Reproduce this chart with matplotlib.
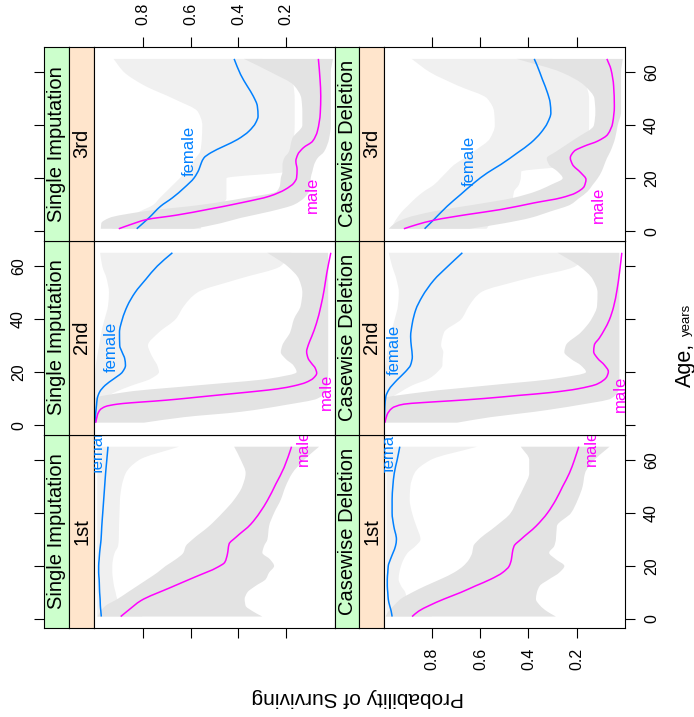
import numpy as np
import matplotlib
matplotlib.use("Agg")
import matplotlib.pyplot as plt
from matplotlib.path import Path
from matplotlib.patches import PathPatch
from matplotlib.transforms import blended_transform_factory

plt.rcParams["font.family"] = ["Liberation Sans", "DejaVu Sans"]

# ------------------------------------------------------------------
# Estimated probability of surviving by age, sex, class and method
# ------------------------------------------------------------------
AGE_GRID = [0.92, 3, 5, 7.5, 10, 12.5, 15, 17.5, 20, 22.5, 25, 27.5, 30,
            35, 40, 45, 50, 55, 60, 65]

# 1st class, single imputation
FEM_1ST_SI = [0.973, 0.975, 0.977, 0.978, 0.980, 0.981, 0.982, 0.984, 0.984, 0.982,
              0.980, 0.977, 0.974, 0.971, 0.967, 0.963, 0.959, 0.955, 0.950, 0.945]
MALE_1ST_SI_AGE = [0.92, 3.5, 6.9, 11.9, 15.7, 19.5, 21.4, 24.5, 28.3, 30.8, 35.8,
                   44.7, 50.9, 57.2, 65]
MALE_1ST_SI = [0.892, 0.857, 0.808, 0.683, 0.585, 0.488, 0.457, 0.446, 0.439, 0.411,
               0.348, 0.279, 0.244, 0.209, 0.178]
FEM_1ST_SI_LO = [0.80, 0.84, 0.87, 0.906, 0.913, 0.92, 0.924, 0.927, 0.927, 0.924,
                 0.917, 0.903, 0.90, 0.899, 0.897, 0.895, 0.888, 0.871, 0.815, 0.648]
FEM_1ST_SI_HI = [0.99] * 20
MALE_1ST_SI_LO = [0.30, 0.342, 0.37, 0.374, 0.363, 0.328, 0.286, 0.272, 0.251, 0.268,
                  0.30, 0.293, 0.279, 0.272, 0.251, 0.223, 0.203, 0.175, 0.126, 0.063]
MALE_1ST_SI_HI = [0.989, 0.975, 0.955, 0.906, 0.864, 0.822, 0.78, 0.739, 0.704, 0.662,
                  0.63, 0.62, 0.592, 0.523, 0.467, 0.418, 0.384, 0.370, 0.390, 0.418]

# 1st class, casewise deletion
FEM_1ST_CD = [0.967, 0.971, 0.977, 0.983, 0.985, 0.987, 0.987, 0.985, 0.983, 0.974,
              0.963, 0.953, 0.949, 0.960, 0.967, 0.967, 0.964, 0.958, 0.946, 0.935]
MALE_1ST_CD = [0.884, 0.856, 0.814, 0.752, 0.682, 0.62, 0.557, 0.508, 0.48, 0.471,
               0.467, 0.46, 0.432, 0.369, 0.321, 0.286, 0.258, 0.23, 0.209, 0.191]
FEM_1ST_CD_LO = [0.80, 0.84, 0.87, 0.905, 0.912, 0.93, 0.94, 0.937, 0.93, 0.919,
                 0.902, 0.87, 0.849, 0.866, 0.884, 0.894, 0.891, 0.874, 0.807, 0.613]
FEM_1ST_CD_HI = [0.99] * 20
MALE_1ST_CD_LO = [0.286, 0.325, 0.351, 0.369, 0.365, 0.353, 0.314, 0.272, 0.251, 0.286,
                  0.314, 0.293, 0.286, 0.282, 0.223, 0.195, 0.175, 0.165, 0.126, 0.063]
MALE_1ST_CD_HI = [0.994, 0.981, 0.96, 0.932, 0.884, 0.828, 0.766, 0.71, 0.671, 0.647,
                  0.634, 0.629, 0.606, 0.536, 0.474, 0.446, 0.418, 0.397, 0.397, 0.432]

# 2nd class, single imputation
FEM_2ND_SI = [0.999, 0.998, 0.996, 0.993, 0.99, 0.98, 0.957, 0.92, 0.885, 0.872,
              0.875, 0.886, 0.896, 0.897, 0.885, 0.864, 0.832, 0.787, 0.739, 0.676]
MALE_2ND_SI_AGE = [0.92, 3.88, 5.76, 7.02, 7.90, 8.40, 9.03, 9.78, 10.53, 11.29, 12.04,
                   12.79, 13.67, 14.80, 16.06, 17.69, 19.57, 21.46, 23.34, 25.22,
                   27.73, 30.24, 33.38, 38.41, 44.69, 50.97, 57.25, 65]
MALE_2ND_SI = [0.996, 0.989, 0.978, 0.955, 0.906, 0.850, 0.753, 0.655, 0.572, 0.488,
               0.404, 0.321, 0.237, 0.168, 0.119, 0.087, 0.073, 0.079, 0.095, 0.109,
               0.115, 0.108, 0.094, 0.074, 0.056, 0.042, 0.031, 0.014]
FEM_2ND_SI_LO = [0.997, 0.995, 0.99, 0.982, 0.962, 0.913, 0.843, 0.766, 0.732, 0.739,
                 0.755, 0.769, 0.778, 0.732, 0.662, 0.627, 0.572, 0.404, 0.223, 0.18]
FEM_2ND_SI_HI = [0.999, 0.999, 0.999, 0.999, 0.999, 0.999, 0.999, 0.999, 0.998, 0.996,
                 0.992, 0.987, 0.982, 0.973, 0.959, 0.945, 0.941, 0.950, 0.969, 0.978]
MALE_2ND_SI_LO = [0.794, 0.627, 0.391, 0.21, 0.07, 0.035, 0.028, 0.026, 0.025, 0.025,
                  0.025, 0.025, 0.025, 0.025, 0.025, 0.025, 0.025, 0.025, 0.025, 0.025]
MALE_2ND_SI_HI = [1.0, 1.0, 1.0, 1.0, 1.0, 0.867, 0.57, 0.274, 0.157, 0.17,
                  0.203, 0.223, 0.217, 0.184, 0.168, 0.14, 0.133, 0.147, 0.196, 0.279]

# 2nd class, casewise deletion
FEM_2ND_CD_AGE = [0.92, 7.02, 10.78, 13.30, 17.06, 20.20, 22.71, 25.85, 29.62, 33.38,
                  38.41, 43.43, 48.46, 54.73, 59.76, 65]
FEM_2ND_CD = [0.999, 0.997, 0.993, 0.981, 0.946, 0.911, 0.890, 0.883, 0.887, 0.890,
              0.883, 0.869, 0.842, 0.793, 0.737, 0.675]
MALE_2ND_CD_AGE = [0.92, 3.88, 6.39, 7.90, 8.52, 9.15, 10.03, 11.16, 12.29, 13.67,
                   15.55, 18.32, 20.20, 22.71, 25.22, 27.73, 30.24, 32.75, 35.89,
                   39.66, 44.69, 50.97, 57.25, 65]
MALE_2ND_CD = [0.997, 0.988, 0.967, 0.918, 0.835, 0.724, 0.585, 0.446, 0.307, 0.196,
               0.113, 0.074, 0.068, 0.085, 0.113, 0.129, 0.126, 0.106, 0.085, 0.064,
               0.046, 0.032, 0.022, 0.012]
FEM_2ND_CD_LO = [0.997, 0.995, 0.993, 0.99, 0.974, 0.932, 0.883, 0.814, 0.779, 0.758,
                 0.757, 0.754, 0.763, 0.751, 0.679, 0.647, 0.599, 0.418, 0.203, 0.15]
FEM_2ND_CD_HI = [0.998, 0.998, 0.998, 0.998, 0.998, 0.998, 0.998, 0.998, 0.997, 0.995,
                 0.992, 0.987, 0.983, 0.971, 0.956, 0.943, 0.939, 0.949, 0.967, 0.981]
MALE_2ND_CD_LO = [0.696, 0.557, 0.376, 0.196, 0.057, 0.029, 0.022, 0.022, 0.022, 0.022,
                  0.022, 0.022, 0.022, 0.022, 0.022, 0.022, 0.022, 0.022, 0.022, 0.022]
MALE_2ND_CD_HI = [1.0, 1.0, 1.0, 1.0, 1.0, 0.835, 0.564, 0.293, 0.161, 0.182,
                  0.224, 0.251, 0.245, 0.182, 0.138, 0.115, 0.113, 0.133, 0.189, 0.279]

# 3rd class, single imputation
FEM_3RD_SI_AGE = [0.92, 5.03, 9.43, 12.58, 16.35, 20.13, 23.27, 25.79, 27.67, 29.56,
                  32.08, 34.59, 37.74, 40.88, 43.40, 47.17, 50.94, 54.72, 59.12, 65]
FEM_3RD_SI = [0.825, 0.774, 0.725, 0.676, 0.627, 0.585, 0.565, 0.555, 0.544, 0.516,
              0.46, 0.404, 0.356, 0.328, 0.318, 0.321, 0.338, 0.363, 0.391, 0.418]
MALE_3RD_SI_AGE = [0.92, 2.52, 4.4, 6.04, 8.18, 10.69, 13.21, 15.72, 18.24,
                   20.13, 23.27, 26.42, 28.93, 31.45, 33.96, 37.74, 44.65, 50.94,
                   57.23, 65]
MALE_3RD_SI = [0.90, 0.85, 0.783, 0.66, 0.53, 0.39, 0.27, 0.205, 0.168,
               0.157, 0.155, 0.16, 0.152, 0.129, 0.09, 0.07, 0.058, 0.056, 0.059, 0.066]
FEM_3RD_SI_LO = [0.558, 0.55, 0.53, 0.50, 0.47, 0.45, 0.45, 0.45, 0.45, 0.2,
                 0.19, 0.18, 0.175, 0.168, 0.165, 0.165, 0.165, 0.17, 0.2, 0.3]
FEM_3RD_SI_HI = [0.93, 0.9, 0.86, 0.811, 0.755, 0.729, 0.701, 0.673, 0.645, 0.618,
                 0.598, 0.58, 0.56, 0.553, 0.551, 0.569, 0.672, 0.794, 0.878, 0.922]
MALE_3RD_SI_LO = [0.585, 0.474, 0.391, 0.265, 0.168, 0.126, 0.105, 0.10, 0.098, 0.091,
                  0.084, 0.07, 0.042, 0.021, 0.014, 0.014, 0.014, 0.014, 0.014, 0.005]
MALE_3RD_SI_HI = [0.975, 0.973, 0.94, 0.794, 0.551, 0.377, 0.24, 0.226, 0.223, 0.216,
                  0.216, 0.209, 0.189, 0.175, 0.133, 0.133, 0.137, 0.168, 0.265, 0.377]

# 3rd class, casewise deletion
FEM_3RD_CD_AGE = [0.92, 4.4, 9.43, 13.84, 18.24, 22.01, 25.16, 29.56, 33.33, 37.11,
                  40.88, 44.65, 48.43, 52.20, 57.23, 62.26, 65]
FEM_3RD_CD = [0.832, 0.793, 0.738, 0.682, 0.626, 0.571, 0.515, 0.446, 0.39, 0.349,
              0.321, 0.307, 0.31, 0.321, 0.342, 0.363, 0.376]
MALE_3RD_CD_AGE = [0.92, 2.52, 4.15, 6.29, 8.18, 10.69, 12.58, 14.47, 16.98, 19.50,
                   22.01, 25.16, 27.67, 30.19, 32.08, 33.96, 36.48, 40.88, 47.17,
                   54.72, 61.01, 65]
MALE_3RD_CD = [0.918, 0.863, 0.793, 0.654, 0.515, 0.376, 0.265, 0.203, 0.168, 0.161,
               0.182, 0.217, 0.226, 0.21, 0.168, 0.113, 0.071, 0.05, 0.043, 0.046,
               0.057, 0.074]
FEM_3RD_CD_LO = [0.574, 0.557, 0.529, 0.50, 0.474, 0.465, 0.46, 0.44, 0.432, 0.43,
                 0.2, 0.18, 0.17, 0.15, 0.148, 0.148, 0.148, 0.16, 0.2, 0.3]
FEM_3RD_CD_HI = [0.97, 0.96, 0.946, 0.925, 0.897, 0.869, 0.835, 0.793, 0.765, 0.738,
                 0.71, 0.668, 0.629, 0.56, 0.54, 0.543, 0.571, 0.696, 0.81, 0.886]
MALE_3RD_CD_LO = [0.643, 0.501, 0.393, 0.307, 0.226, 0.189, 0.154, 0.133, 0.112, 0.096,
                  0.085, 0.074, 0.06, 0.04, 0.029, 0.015, 0.015, 0.015, 0.015, 0.008]
MALE_3RD_CD_HI = [0.981, 0.955, 0.907, 0.793, 0.626, 0.467, 0.37, 0.307, 0.258, 0.279,
                  0.314, 0.324, 0.286, 0.203, 0.128, 0.122, 0.126, 0.168, 0.265, 0.449]

METHODS = ["Single Imputation", "Casewise Deletion"]
CLASSES = ["1st", "2nd", "3rd"]
AGE_TICKS = [0, 20, 40, 60]
PROB_TICKS = [0.2, 0.4, 0.6, 0.8]

PANELS = {
    (0, "1st"): dict(fa=AGE_GRID, f=FEM_1ST_SI, ma=MALE_1ST_SI_AGE, m=MALE_1ST_SI,
                     flo=FEM_1ST_SI_LO, fhi=FEM_1ST_SI_HI,
                     mlo=MALE_1ST_SI_LO, mhi=MALE_1ST_SI_HI),
    (1, "1st"): dict(fa=AGE_GRID, f=FEM_1ST_CD, ma=AGE_GRID, m=MALE_1ST_CD,
                     flo=FEM_1ST_CD_LO, fhi=FEM_1ST_CD_HI,
                     mlo=MALE_1ST_CD_LO, mhi=MALE_1ST_CD_HI),
    (0, "2nd"): dict(fa=AGE_GRID, f=FEM_2ND_SI, ma=MALE_2ND_SI_AGE, m=MALE_2ND_SI,
                     flo=FEM_2ND_SI_LO, fhi=FEM_2ND_SI_HI,
                     mlo=MALE_2ND_SI_LO, mhi=MALE_2ND_SI_HI),
    (1, "2nd"): dict(fa=FEM_2ND_CD_AGE, f=FEM_2ND_CD, ma=MALE_2ND_CD_AGE, m=MALE_2ND_CD,
                     flo=FEM_2ND_CD_LO, fhi=FEM_2ND_CD_HI,
                     mlo=MALE_2ND_CD_LO, mhi=MALE_2ND_CD_HI),
    (0, "3rd"): dict(fa=FEM_3RD_SI_AGE, f=FEM_3RD_SI, ma=MALE_3RD_SI_AGE, m=MALE_3RD_SI,
                     flo=FEM_3RD_SI_LO, fhi=FEM_3RD_SI_HI,
                     mlo=MALE_3RD_SI_LO, mhi=MALE_3RD_SI_HI),
    (1, "3rd"): dict(fa=FEM_3RD_CD_AGE, f=FEM_3RD_CD, ma=MALE_3RD_CD_AGE, m=MALE_3RD_CD,
                     flo=FEM_3RD_CD_LO, fhi=FEM_3RD_CD_HI,
                     mlo=MALE_3RD_CD_LO, mhi=MALE_3RD_CD_HI),
}

# curve labels: (probability at baseline, age where the text starts)
CURVE_LABELS = {
    (0, "1st"): ((0.968, 55.0), (0.109, 57.9)),
    (1, "1st"): ((0.960, 55.3), (0.118, 57.9)),
    (0, "2nd"): ((0.913, 20.2), (0.012, 5.8)),
    (1, "2nd"): ((0.939, 18.9), (0.000, 5.1)),
    (0, "3rd"): ((0.585, 20.8), (0.073, 6.9)),
    (1, "3rd"): ((0.626, 17.0), (0.092, 3.1)),
}


# ------------------------------------------------------------------
# Smooth (shape-preserving cubic) paths through the estimates
# ------------------------------------------------------------------
def pchip_slopes(t, v):
    t = np.asarray(t, float)
    v = np.asarray(v, float)
    h = np.diff(t)
    d = np.diff(v) / h
    m = np.zeros_like(v)
    m[0], m[-1] = d[0], d[-1]
    for k in range(1, len(v) - 1):
        if d[k - 1] * d[k] <= 0:
            m[k] = 0.0
        else:
            w1 = 2 * h[k] + h[k - 1]
            w2 = h[k] + 2 * h[k - 1]
            m[k] = (w1 + w2) / (w1 / d[k - 1] + w2 / d[k])
    return m


def bezier_vertices(age, prob):
    """Cubic Bezier vertices (x=prob, y=age) following the estimates."""
    t = np.asarray(age, float)
    v = np.asarray(prob, float)
    m = pchip_slopes(t, v)
    verts = [(v[0], t[0])]
    for k in range(len(t) - 1):
        h = t[k + 1] - t[k]
        verts.append((v[k] + m[k] * h / 3, t[k] + h / 3))
        verts.append((v[k + 1] - m[k + 1] * h / 3, t[k + 1] - h / 3))
        verts.append((v[k + 1], t[k + 1]))
    return verts


def curve_path(age, prob):
    verts = bezier_vertices(age, prob)
    codes = [Path.MOVETO] + [Path.CURVE4] * (len(verts) - 1)
    return Path(verts, codes)


def band_path(age, lo, hi):
    lo_v = bezier_vertices(age, lo)
    hi_v = bezier_vertices(age, hi)[::-1]
    verts = lo_v + hi_v + [lo_v[0]]
    codes = ([Path.MOVETO] + [Path.CURVE4] * (len(lo_v) - 1)
             + [Path.LINETO] + [Path.CURVE4] * (len(hi_v) - 1)
             + [Path.CLOSEPOLY])
    return Path(verts, codes)


# ------------------------------------------------------------------
# Layout (pixels) - the trellis is laid out sideways
# ------------------------------------------------------------------
W, H = 694, 717
COL_X = [(44.3, 69.3, 94.0, 335.0), (335.0, 359.3, 384.0, 624.7)]
ROW_Y = {"3rd": (46.7, 240.6), "2nd": (240.6, 434.5), "1st": (434.5, 628.4)}
XLIM = [(1.0035, -0.0035), (1.0007, 0.0)]
YLIM = (-3.55, 69.6)

FEMALE_COL = "#0080ff"
MALE_COL = "#ff00ff"
FEMALE_BAND = "#f0f0f0"
MALE_BAND = "#e3e3e3"
STRIP_OUTER = "#ccffcc"
STRIP_INNER = "#ffe5cc"
TICK_FS = 11.5
STRIP_FS = 14.5
LAB_FS = 12
TICK_LEN = 7.2  # points (10 px)

fig = plt.figure(figsize=(W / 100, H / 100), dpi=100)


def box(x0, y0, x1, y1):
    return [x0 / W, 1 - y1 / H, (x1 - x0) / W, (y1 - y0) / H]


def frame(ax, lw=0.8):
    for s in ax.spines.values():
        s.set_linewidth(lw)
        s.set_color("black")


for ci, method in enumerate(METHODS):
    gx0, gx1, px0, px1 = COL_X[ci]
    for cls in CLASSES:
        y0, y1 = ROW_Y[cls]

        # outer strip (method)
        sg = fig.add_axes(box(gx0, y0, gx1, y1), facecolor=STRIP_OUTER)
        sg.set_xlim(0, 1)
        sg.set_ylim(*YLIM)
        sg.set_xticks([])
        if ci == 0:
            sg.set_yticks(AGE_TICKS)
            sg.tick_params(axis="y", left=True, labelleft=False, direction="out",
                           length=TICK_LEN, width=0.8)
        else:
            sg.set_yticks([])
        frame(sg)
        sg.text(0.5, 0.5, method, transform=sg.transAxes, rotation=90,
                ha="center", va="center", fontsize=STRIP_FS)

        # inner strip (class)
        so = fig.add_axes(box(gx1, y0, px0, y1), facecolor=STRIP_INNER)
        so.set_xticks([])
        so.set_yticks([])
        frame(so)
        so.text(0.5, 0.5, cls, transform=so.transAxes, rotation=90,
                ha="center", va="center", fontsize=STRIP_FS)

        # panel
        ax = fig.add_axes(box(px0, y0, px1, y1))
        ax.set_xlim(*XLIM[ci])
        ax.set_ylim(*YLIM)
        frame(ax)
        d = PANELS[(ci, cls)]
        ax.add_patch(PathPatch(band_path(AGE_GRID, d["flo"], d["fhi"]),
                               facecolor=FEMALE_BAND, edgecolor="none", lw=0))
        ax.add_patch(PathPatch(band_path(AGE_GRID, d["mlo"], d["mhi"]),
                               facecolor=MALE_BAND, edgecolor="none", lw=0))
        ax.add_patch(PathPatch(curve_path(d["fa"], d["f"]), facecolor="none",
                               edgecolor=FEMALE_COL, lw=1.1))
        ax.add_patch(PathPatch(curve_path(d["ma"], d["m"]), facecolor="none",
                               edgecolor=MALE_COL, lw=1.1))

        (fx, fy), (mx, my) = CURVE_LABELS[(ci, cls)]
        ax.text(fx, fy, "female", color=FEMALE_COL, fontsize=LAB_FS, rotation=90,
                rotation_mode="anchor", ha="left", va="baseline", clip_on=True)
        ax.text(mx, my, "male", color=MALE_COL, fontsize=LAB_FS, rotation=90,
                rotation_mode="anchor", ha="left", va="baseline", clip_on=True)

        # age ticks on the right edge of the right-hand column
        if ci == 1:
            ax.yaxis.tick_right()
            ax.set_yticks(AGE_TICKS)
            ax.tick_params(axis="y", right=True, left=False, labelright=False,
                           direction="out", length=TICK_LEN, width=0.8)
        else:
            ax.set_yticks([])

        # probability ticks on the outer rows
        if cls == "3rd":
            ax.xaxis.tick_top()
            ax.set_xticks(PROB_TICKS)
            ax.tick_params(axis="x", top=True, bottom=False, labeltop=False,
                           labelbottom=False, direction="out", length=TICK_LEN,
                           width=0.8)
        elif cls == "1st":
            ax.set_xticks(PROB_TICKS)
            ax.tick_params(axis="x", bottom=True, labelbottom=False,
                           direction="out", length=TICK_LEN, width=0.8)
        else:
            ax.set_xticks([])

        # alternating tick labels
        if ci == 1 and cls in ("1st", "3rd"):
            tr = blended_transform_factory(fig.transFigure, ax.transData)
            for a in AGE_TICKS:
                ax.text(651.5 / W, a, str(a), transform=tr, rotation=90,
                        ha="center", va="center", fontsize=TICK_FS)
        if ci == 0 and cls == "2nd":
            tr = blended_transform_factory(fig.transFigure, ax.transData)
            for a in AGE_TICKS:
                ax.text(18.5 / W, a, str(a), transform=tr, rotation=90,
                        ha="center", va="center", fontsize=TICK_FS)
        if ci == 0 and cls == "3rd":
            tr = blended_transform_factory(ax.transData, fig.transFigure)
            for p in PROB_TICKS:
                ax.text(p, 1 - 14.2 / H, f"{p:.1f}", transform=tr, rotation=90,
                        ha="center", va="center", fontsize=TICK_FS)
        if ci == 1 and cls == "1st":
            tr = blended_transform_factory(ax.transData, fig.transFigure)
            for p in PROB_TICKS:
                ax.text(p, 1 - 659 / H, f"{p:.1f}", transform=tr, rotation=90,
                        ha="center", va="center", fontsize=TICK_FS)

# axis titles, turned with the trellis
fig.text(358 / W, 1 - 692 / H, "Probability of Surviving", rotation=180,
         rotation_mode="anchor", ha="center", va="baseline", fontsize=15)
fig.text(690.5 / W, 1 - 387 / H, "Age,", rotation=90, rotation_mode="anchor",
         ha="left", va="baseline", fontsize=15.5)
fig.text(689.5 / W, 1 - 336 / H, "years", rotation=90, rotation_mode="anchor",
         ha="left", va="baseline", fontsize=9.5)

fig.savefig("out.png", dpi=100)
